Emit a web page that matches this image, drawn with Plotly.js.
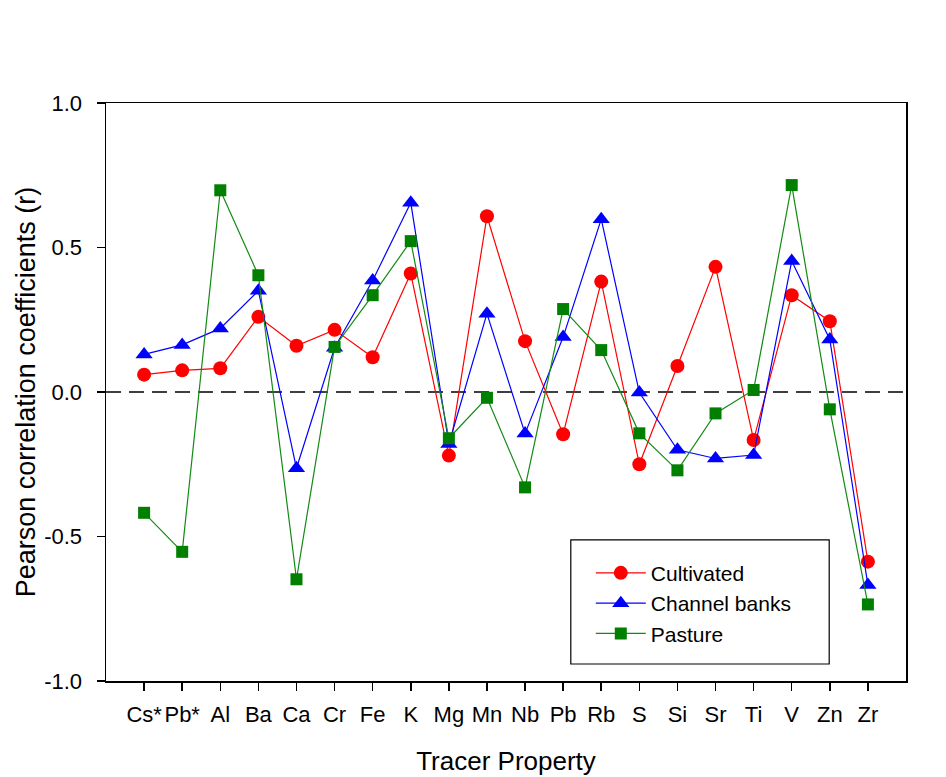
<!DOCTYPE html>
<html>
<head>
<meta charset="utf-8">
<script src="https://cdn.plot.ly/plotly-3.0.1.min.js"></script>
<style>html,body{margin:0;padding:0;background:#fff;}#chart{width:946px;height:777px;}</style>
</head>
<body>
<div id="chart"></div>
<script>
const categories = ['Cs*','Pb*','Al','Ba','Ca','Cr','Fe','K','Mg','Mn','Nb','Pb','Rb','S','Si','Sr','Ti','V','Zn','Zr'];
const cultivated = [0.06, 0.075, 0.082, 0.26, 0.16, 0.215, 0.12, 0.41, -0.22, 0.608, 0.176, -0.146, 0.382, -0.25, 0.09, 0.433, -0.166, 0.335, 0.245, -0.587];
const channelBanks = [0.13, 0.163, 0.22, 0.35, -0.264, 0.153, 0.386, 0.655, -0.18, 0.271, -0.144, 0.19, 0.598, -0.002, -0.2, -0.23, -0.218, 0.453, 0.182, -0.668];
const pasture = [-0.418, -0.553, 0.698, 0.404, -0.648, 0.156, 0.335, 0.522, -0.16, -0.02, -0.33, 0.287, 0.145, -0.143, -0.271, -0.074, 0.007, 0.716, -0.06, -0.735];
const yTicks = [-1.0, -0.5, 0.0, 0.5, 1.0];
const yTickText = yTicks.map(v => v.toFixed(1));

const FONT = '"Liberation Sans", Arial, sans-serif';

const traces = [
  {x: categories, y: cultivated, name: 'Cultivated', type: 'scatter', mode: 'lines+markers',
   line: {color: '#ff0000', width: 1.2}, marker: {symbol: 'circle', size: 14, color: '#ff0000'}},
  {x: categories, y: channelBanks, name: 'Channel banks', type: 'scatter', mode: 'lines+markers',
   line: {color: '#0000ff', width: 1.2}, marker: {symbol: 'triangle-up', size: 15, color: '#0000ff'}},
  {x: categories, y: pasture, name: 'Pasture', type: 'scatter', mode: 'lines+markers',
   line: {color: '#138a13', width: 1.2}, marker: {symbol: 'square', size: 12, color: '#007f00'}}
];

const layout = {
  width: 946, height: 777,
  margin: {l: 106, r: 40, t: 103, b: 96},
  paper_bgcolor: '#ffffff', plot_bgcolor: '#ffffff',
  font: {family: FONT, color: '#000', size: 22},
  showlegend: true,
  legend: {x: 0.606, y: 0.222, xanchor: 'left', yanchor: 'top', bgcolor: 'rgba(0,0,0,0)',
           borderwidth: 0, font: {family: FONT, size: 21, color: '#000'}, itemwidth: 50},
  xaxis: {
    type: 'category', range: [-1, 20], showgrid: false, zeroline: false,
    showline: true, linecolor: '#000', linewidth: 1.5, mirror: true,
    ticks: 'outside', ticklen: 8, tickwidth: 1.5, tickcolor: '#000',
    tickfont: {family: FONT, size: 22, color: '#000'}, ticklabelstandoff: 5,
    title: {text: 'Tracer Property', font: {family: FONT, size: 26, color: '#000'}, standoff: 26},
    automargin: false
  },
  yaxis: {
    range: [-1, 1], showgrid: false, zeroline: false,
    showline: true, linecolor: '#000', linewidth: 1.5, mirror: true,
    tickvals: yTicks, ticktext: yTickText,
    ticks: 'outside', ticklen: 8, tickwidth: 1.5, tickcolor: '#000',
    tickfont: {family: FONT, size: 22, color: '#000'}, ticklabelstandoff: 10,
    title: {text: 'Pearson correlation coefficients (r)', font: {family: FONT, size: 27, color: '#000'}, standoff: 0},
    automargin: false
  },
  shapes: [
    {type: 'line', xref: 'paper', yref: 'y', x0: 0, x1: 1, y0: 0, y1: 0,
     line: {color: '#000', width: 1.5, dash: '15px,8px'}, layer: 'below'},
    {type: 'rect', xref: 'paper', yref: 'paper', x0: 0.581, x1: 0.904, y0: 0.0294, y1: 0.244,
     line: {color: '#000', width: 1.2}, fillcolor: 'rgba(0,0,0,0)'}
  ]
};

Plotly.newPlot('chart', traces, layout, {displayModeBar: false, staticPlot: true});
</script>
</body>
</html>
